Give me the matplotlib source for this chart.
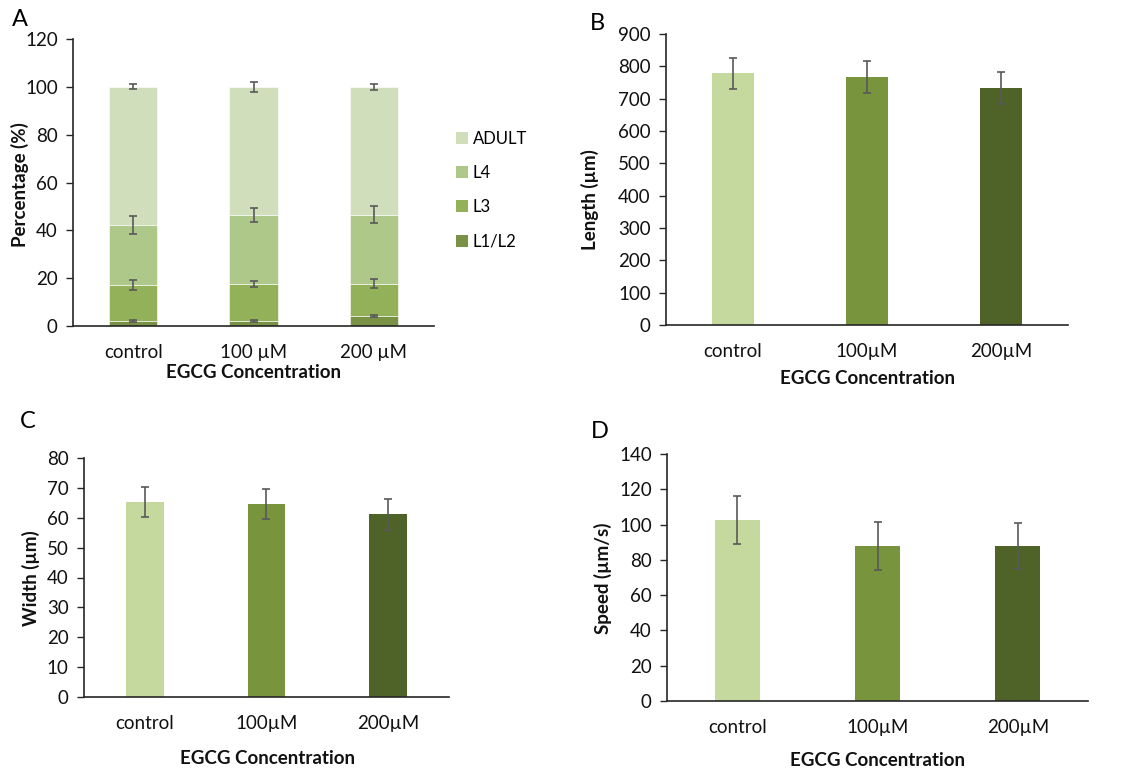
import matplotlib
matplotlib.use("Agg")
import matplotlib.pyplot as plt
import numpy as np
from matplotlib.patches import Patch

plt.rcParams['font.family'] = ['Lato', 'DejaVu Sans']

# ---------------- data ----------------
cats_A = ["control", "100 µM", "200 µM"]
stages = ["L1/L2", "L3", "L4", "ADULT"]
l1l2 = [2.0, 2.0, 4.0]
l3 = [15.3, 15.7, 13.7]
l4 = [25.0, 28.8, 28.8]
adult = [57.7, 53.5, 53.5]
l1l2_err = [0.3, 0.3, 0.4]
l3_err = [2.1, 1.2, 1.8]
l4_err = [3.9, 3.0, 3.6]
adult_err = [1.0, 2.0, 1.3]

cats = ["control", "100µM", "200µM"]
length = [778, 766, 732]
length_err = [49, 49, 50]
width = [65.3, 64.6, 61.2]
width_err = [5.0, 4.9, 5.2]
speed = [102.6, 88.0, 88.0]
speed_err = [13.5, 13.5, 13.0]

stage_colors = {"L1/L2": "#7a9245", "L3": "#93b158", "L4": "#adc889", "ADULT": "#d0debb"}
bar_colors = ["#c5d89d", "#78943c", "#4f6329"]
err_color = "#595959"
axis_color = "#262626"

W, H = 1122, 769
fig = plt.figure(figsize=(W / 100, H / 100), dpi=100)


def box(l, t, r, b):
    return [l / W, 1 - b / H, (r - l) / W, (b - t) / H]


def style(ax, ymax, step):
    for s in ["top", "right"]:
        ax.spines[s].set_visible(False)
    for s in ["left", "bottom"]:
        ax.spines[s].set_color(axis_color)
        ax.spines[s].set_linewidth(1.2)
    ax.set_ylim(0, ymax)
    ax.set_yticks(np.arange(0, ymax + step / 2, step))
    ax.set_xlim(-0.5, 2.5)
    ax.tick_params(axis='y', direction='out', length=5, width=1, color=axis_color,
                   labelsize=13.5, pad=6, labelcolor="#111111")
    ax.tick_params(axis='x', length=0, labelsize=13.5, pad=13, labelcolor="#111111")


lab_kw = dict(fontsize=13.5, fontweight='bold', color="#111111")

# ---------------- Panel A ----------------
axA = fig.add_axes(box(73, 39, 434, 326))
x = np.arange(3)
bottom = np.zeros(3)
seg = {"L1/L2": (l1l2, l1l2_err), "L3": (l3, l3_err), "L4": (l4, l4_err), "ADULT": (adult, adult_err)}
for st in stages:
    vals, errs = seg[st]
    vals = np.array(vals)
    axA.bar(x, vals, 0.4, bottom=bottom, color=stage_colors[st], edgecolor='white', linewidth=0.4, zorder=2)
    top = bottom + vals
    axA.errorbar(x, top, yerr=errs, fmt='none', ecolor=err_color, elinewidth=1.2, capsize=2.6,
                 capthick=1.2, zorder=3)
    bottom = top
style(axA, 120, 20)
axA.set_xticks(x)
axA.set_xticklabels(cats_A)
fig.text(20 / W, 1 - 185 / H, "Percentage (%)", rotation=90, ha='center', va='center', **lab_kw)
fig.text(253 / W, 1 - 373 / H, "EGCG Concentration", ha='center', va='center', **lab_kw)
handles = [Patch(facecolor=stage_colors[s], edgecolor='none') for s in stages[::-1]]
fig.legend(handles, stages[::-1], loc='center left', bbox_to_anchor=(441 / W, 1 - 190 / H),
           frameon=False, fontsize=12, handlelength=0.7, handleheight=0.7, handletextpad=0.3,
           labelspacing=1.1)
fig.text(20 / W, 1 - 20 / H, "A", ha='center', va='center', fontsize=17)

# ---------------- Panel B ----------------
axB = fig.add_axes(box(666, 34, 1068, 325))
axB.bar(x, length, 0.32, color=bar_colors, zorder=2)
axB.errorbar(x, length, yerr=length_err, fmt='none', ecolor=err_color, elinewidth=1.2,
             capsize=3.2, capthick=1.2, zorder=3)
style(axB, 900, 100)
axB.set_xticks(x)
axB.set_xticklabels(cats)
fig.text(590 / W, 1 - 200 / H, "Length (µm)", rotation=90, ha='center', va='center', **lab_kw)
fig.text(867 / W, 1 - 378 / H, "EGCG Concentration", ha='center', va='center', **lab_kw)
fig.text(597 / W, 1 - 23 / H, "B", ha='center', va='center', fontsize=17)

# ---------------- Panel C ----------------
axC = fig.add_axes(box(84, 458, 449, 697))
axC.bar(x, width, 0.31, color=bar_colors, zorder=2)
axC.errorbar(x, width, yerr=width_err, fmt='none', ecolor=err_color, elinewidth=1.2,
             capsize=3.2, capthick=1.2, zorder=3)
style(axC, 80, 10)
axC.set_xticks(x)
axC.set_xticklabels(cats)
fig.text(31 / W, 1 - 578 / H, "Width (µm)", rotation=90, ha='center', va='center', **lab_kw)
fig.text(267 / W, 1 - 758 / H, "EGCG Concentration", ha='center', va='center', **lab_kw)
fig.text(28 / W, 1 - 422 / H, "C", ha='center', va='center', fontsize=17)

# ---------------- Panel D ----------------
axD = fig.add_axes(box(667, 454, 1088, 701))
axD.bar(x, speed, 0.32, color=bar_colors, zorder=2)
axD.errorbar(x, speed, yerr=speed_err, fmt='none', ecolor=err_color, elinewidth=1.2,
             capsize=3.2, capthick=1.2, zorder=3)
style(axD, 140, 20)
axD.set_xticks(x)
axD.set_xticklabels(cats)
fig.text(603 / W, 1 - 578 / H, "Speed (µm/s)", rotation=90, ha='center', va='center', **lab_kw)
fig.text(877 / W, 1 - 760 / H, "EGCG Concentration", ha='center', va='center', **lab_kw)
fig.text(600 / W, 1 - 432 / H, "D", ha='center', va='center', fontsize=17)

fig.savefig("out.png", dpi=100, facecolor='white')
